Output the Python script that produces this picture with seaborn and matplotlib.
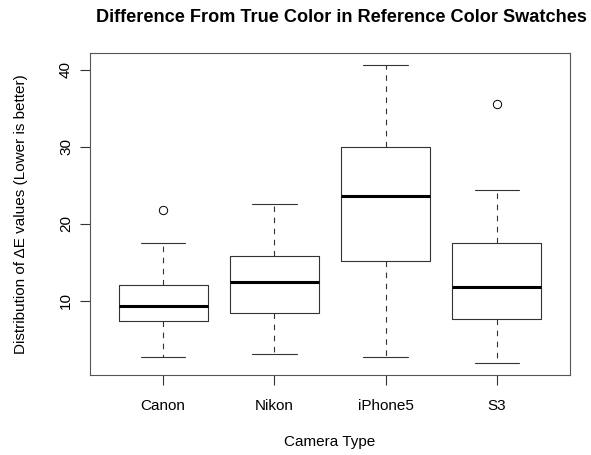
import matplotlib
matplotlib.use("Agg")
import matplotlib.pyplot as plt
import seaborn as sns

# five-number summaries (R style boxplot)
cameras = ["Canon", "Nikon", "iPhone5", "S3"]
whisker_low = [2.75, 3.13, 2.66, 1.88]
q1 = [7.37, 8.4, 15.1, 7.7]
medians = [9.35, 12.5, 23.56, 11.77]
q3 = [12.03, 15.8, 29.9, 17.47]
whisker_high = [17.55, 22.6, 40.66, 24.4]
outliers = [[21.8], [], [], [35.56]]
y_ticks = [10, 20, 30, 40]

sns.set_style("white")
plt.rcParams["font.family"] = ["Liberation Sans", "DejaVu Sans"]
plt.rcParams["text.color"] = "black"
plt.rcParams["axes.labelcolor"] = "black"
plt.rcParams["xtick.color"] = "black"
plt.rcParams["ytick.color"] = "black"

stats = []
for i, name in enumerate(cameras):
    stats.append({
        "label": name,
        "whislo": whisker_low[i],
        "q1": q1[i],
        "med": medians[i],
        "q3": q3[i],
        "whishi": whisker_high[i],
        "fliers": outliers[i],
    })

fig = plt.figure(figsize=(5.91, 4.55), dpi=100)
ax = fig.add_axes([0.1518, 0.1752, 0.8132, 0.709])

line_col = "#333333"
ax.bxp(
    stats,
    positions=range(1, len(cameras) + 1),
    widths=0.8,
    patch_artist=False,
    boxprops=dict(color=line_col, linewidth=0.8),
    whiskerprops=dict(color=line_col, linewidth=0.8, linestyle=(0, (5, 5))),
    capprops=dict(color=line_col, linewidth=0.8),
    medianprops=dict(color="black", linewidth=2.2),
    flierprops=dict(marker="o", markersize=6, markerfacecolor="none",
                    markeredgecolor="black", markeredgewidth=0.7),
    capwidths=0.4,
)

ax.set_xlim(0.34, 4.66)
ax.set_ylim(0.33, 42.2)
ax.set_yticks(y_ticks)
ax.set_yticklabels([str(t) for t in y_ticks], rotation=90, va="center", fontsize=11)
ax.set_xticks(range(1, len(cameras) + 1))
ax.set_xticklabels(cameras, fontsize=11)
ax.tick_params(axis="both", direction="out", length=7, width=0.8, color=line_col,
               left=True, bottom=True)
ax.tick_params(axis="x", pad=10)
ax.tick_params(axis="y", pad=5)

for side in ax.spines.values():
    side.set_color("#555555")
    side.set_linewidth(0.8)

ax.set_xlabel("Camera Type", fontsize=11)
ax.xaxis.set_label_coords(0.5, -0.185)
ax.set_ylabel("Distribution of ΔE values (Lower is better)", fontsize=11)
ax.yaxis.set_label_coords(-0.128, 0.5)
fig.suptitle("Difference From True Color in Reference Color Swatches",
             fontsize=13.1, fontweight="bold", x=0.578, y=0.98)

fig.savefig("out.png", dpi=100)
